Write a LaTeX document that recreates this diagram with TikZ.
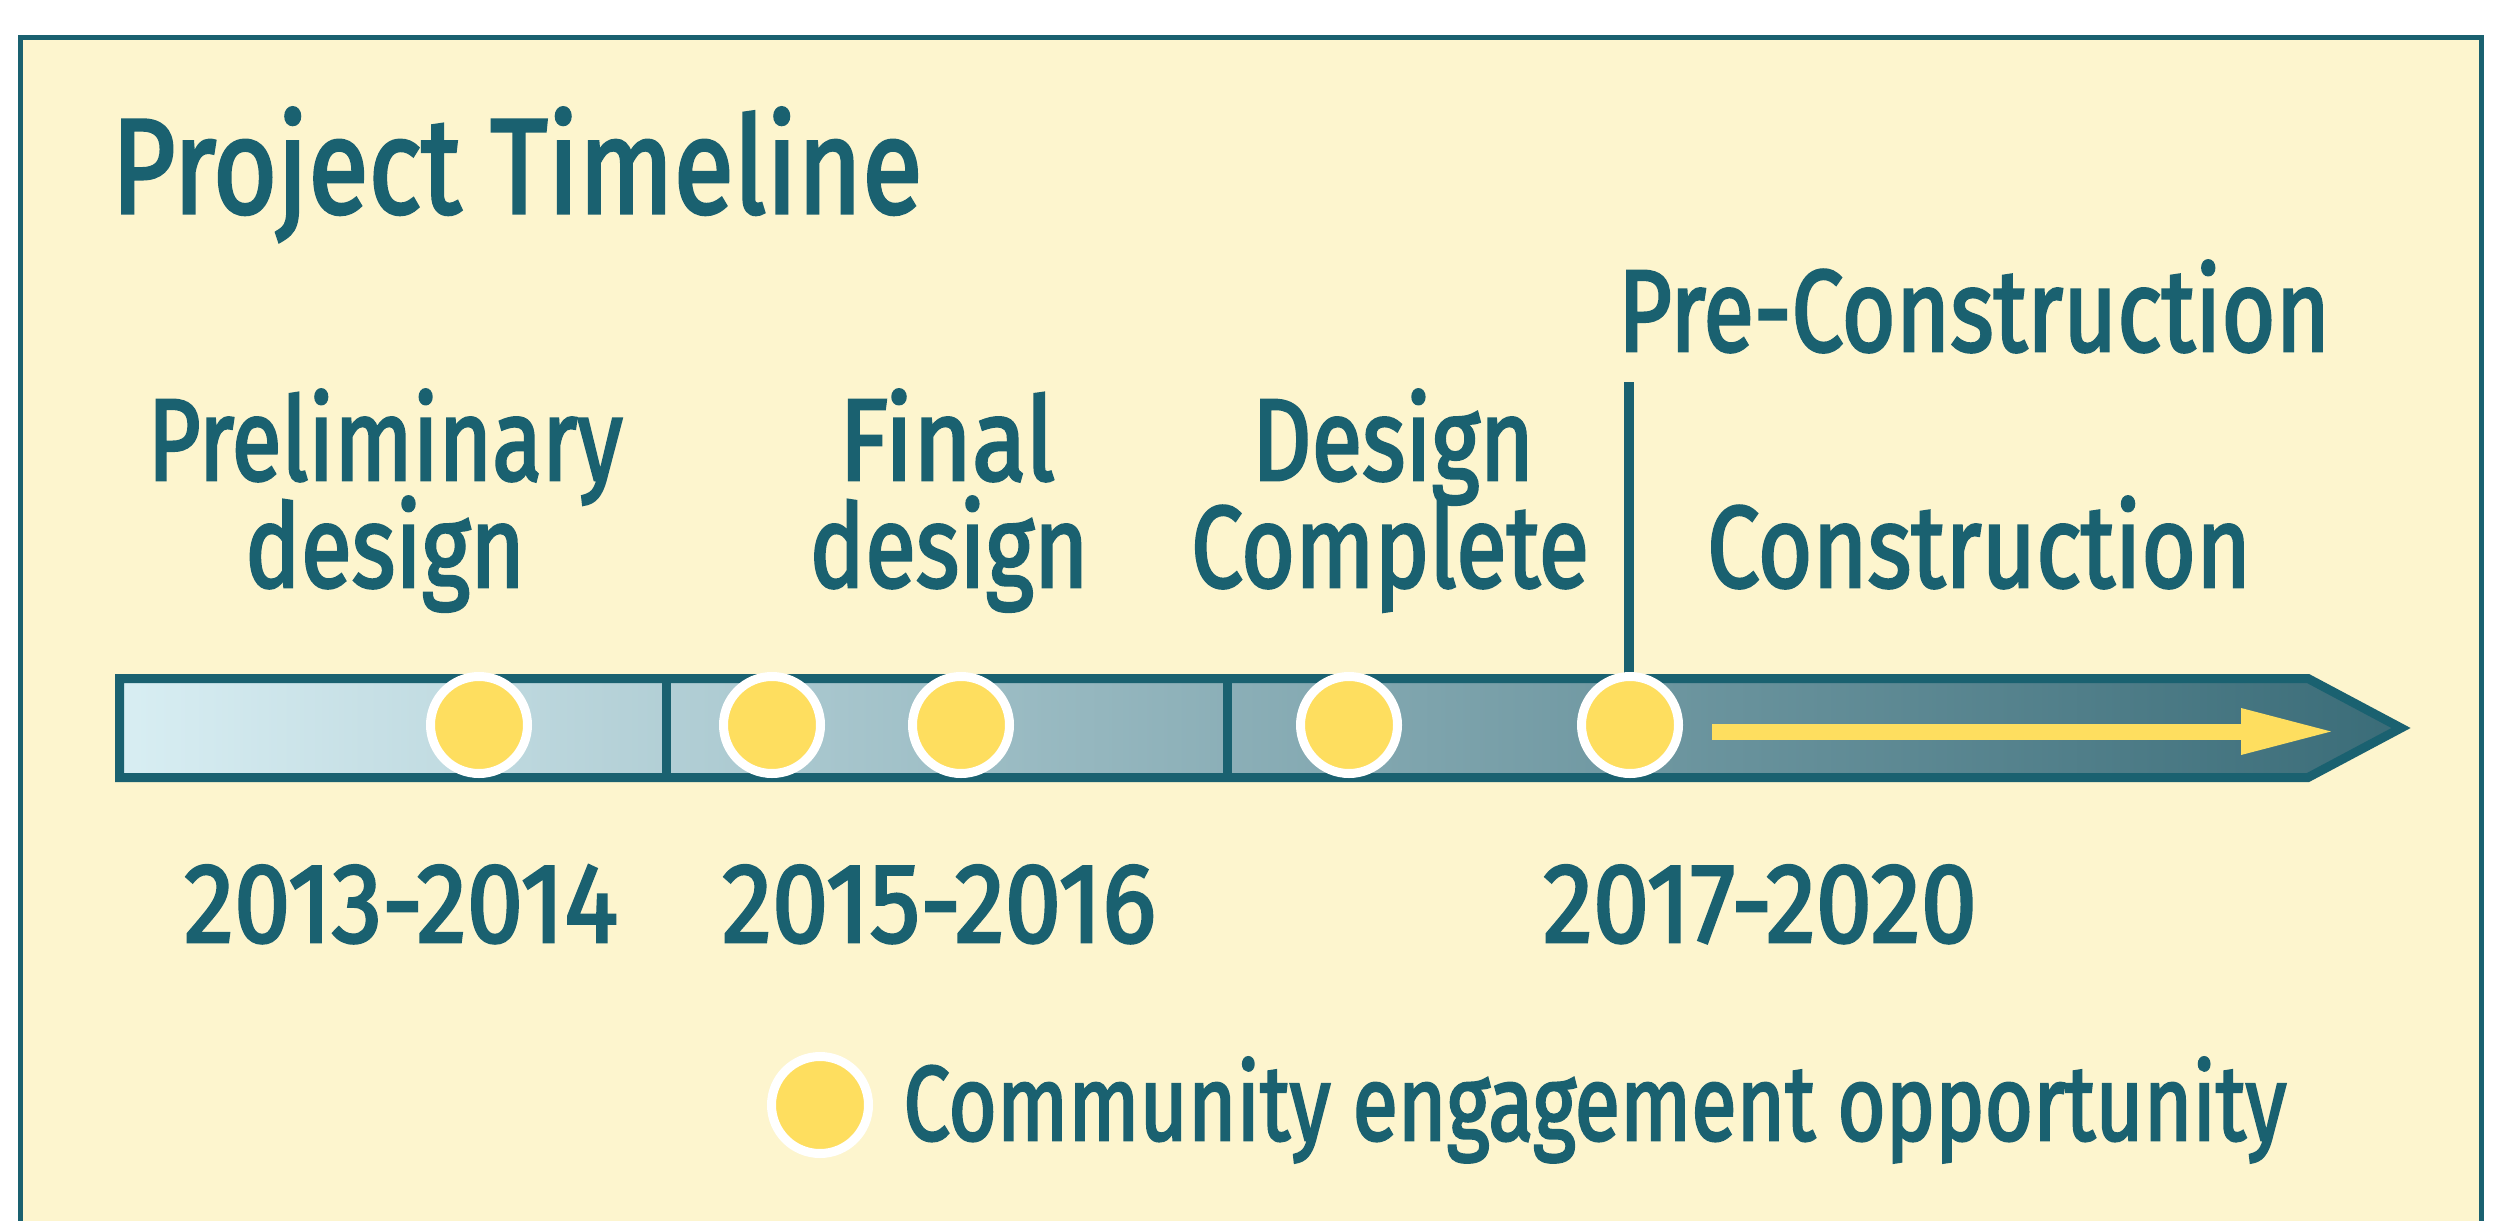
\documentclass[tikz,border=0pt]{standalone}
\usepackage{fontspec}
\usepackage{graphicx}
\usetikzlibrary{calc}
\setmainfont{Fira Sans}[FakeBold=2.5]
\definecolor{tealc}{RGB}{26,97,112}
\definecolor{bgc}{RGB}{253,245,206}
\definecolor{yelc}{RGB}{254,222,95}
\definecolor{barL}{RGB}{216,238,243}
\definecolor{barR}{RGB}{58,108,120}
\newsavebox\fitbox
\newdimen\fitdim
\newcommand\fitw[2]{\sbox\fitbox{#2}\fitdim=\wd\fitbox\pgfmathsetmacro\fitf{#1/\fitdim}\scalebox{\fitf}[1]{\usebox\fitbox}}
\tikzset{
  lbl/.style={text=tealc, inner sep=0pt, anchor=base, font=\fontsize{58pt}{58pt}\selectfont},
  datelbl/.style={lbl, font=\fontsize{56.5pt}{56.5pt}\selectfont},
  eng/.style={circle, draw=white, line width=4.5pt, fill=yelc, minimum size=48.5pt, inner sep=0pt},
  barline/.style={draw=tealc, line width=4.5pt}
}
\begin{document}
\begin{tikzpicture}[x=0.5pt,y=-0.5pt]
\useasboundingbox (0,0) rectangle (2503,1220);
\fill[white] (0,0) rectangle (2503,1220);
% frame
\fill[bgc] (20.5,38) rectangle (2481,1240);
\draw[tealc, line width=2.5pt] (20.5,1240) -- (20.5,38) -- (2481,38) -- (2481,1240);
% title
\node[lbl, anchor=base west, font=\fontsize{67.5pt}{67.5pt}\selectfont] (title) at (111,213) {\fitw{405.5}{Project Timeline}};
% phase labels
\node[lbl] (pre) at (1974,351) {\fitw{356}{Pre-Construction}};
\node[lbl] (prelim1) at (385,480) {\fitw{237.5}{Preliminary}};
\node[lbl] (prelim2) at (385,587) {\fitw{140}{design}};
\node[lbl] (final1) at (947,480) {\fitw{108}{Final}};
\node[lbl] (final2) at (949,587) {\fitw{139.5}{design}};
\node[lbl] (dc1) at (1393,480) {\fitw{141}{Design}};
\node[lbl] (dc2) at (1390,587) {\fitw{199}{Complete}};
\node[lbl] (constr) at (1979,587) {\fitw{272}{Construction}};
% bar
\shade[left color=barL, right color=barR] (119.5,678.5) -- (2308,678.5) -- (2401,728) -- (2308,777.5) -- (119.5,777.5) -- cycle;
\draw[barline, line join=miter] (119.5,678.5) -- (2308,678.5) -- (2401,728) -- (2308,777.5) -- (119.5,777.5) -- cycle;
\coordinate (d1t) at (666,678.5); \coordinate (d1b) at (666,777.5);
\coordinate (d2t) at (1227,678.5); \coordinate (d2b) at (1227,777.5);
\draw[barline] (d1t) -- (d1b);
\draw[barline] (d2t) -- (d2b);
% pre-construction marker line
\coordinate (vtop) at (1629,382);
\coordinate (vbot) at (1629,678);
\draw[tealc, line width=5pt] (vtop) -- (vbot);
% yellow arrow
\coordinate (ys) at (1712,731.5);
\coordinate (yb) at (2241,731.5);
\coordinate (ye) at (2331,731.5);
\draw[yelc, line width=8pt] (ys) -- (yb);
\fill[yelc] ($(yb)+(0,-23.5)$) -- (ye) -- ($(yb)+(0,23.5)$) -- cycle;
% engagement circles
\node[eng] (c1) at (479,725) {};
\node[eng] (c2) at (772,725) {};
\node[eng] (c3) at (961,725) {};
\node[eng] (c4) at (1349,725) {};
\node[eng] (c5) at (1630,725) {};
% dates
\node[datelbl] (y1) at (401,942) {\fitw{217}{2013-2014}};
\node[datelbl] (y2) at (939,942) {\fitw{217}{2015-2016}};
\node[datelbl] (y3) at (1760,942) {\fitw{217}{2017-2020}};
% legend
\node[eng] (leg) at (820,1105) {};
\node[lbl, anchor=base west, font=\fontsize{53pt}{53pt}\selectfont] (legt) at (903,1140) {\fitw{691.5}{Community engagement opportunity}};
\end{tikzpicture}
\end{document}
